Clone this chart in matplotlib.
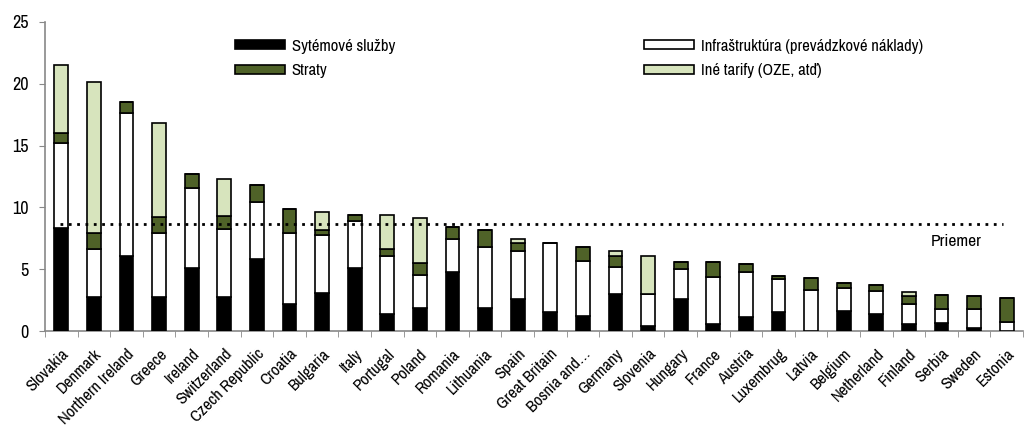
import matplotlib
matplotlib.use("Agg")
import matplotlib.pyplot as plt
import numpy as np
from matplotlib import font_manager

countries = ["Slovakia", "Denmark", "Northern Ireland", "Greece", "Ireland", "Switzerland",
             "Czech Republic", "Croatia", "Bulgaria", "Italy", "Portugal", "Poland", "Romania",
             "Lithuania", "Spain", "Great Britain", "Bosnia and…", "Germany", "Slovenia",
             "Hungary", "France", "Austria", "Luxembrug", "Latvia", "Belgium", "Netherland",
             "Finland", "Serbia", "Sweden", "Estonia"]
system_services = [8.3, 2.75, 6.1, 2.75, 5.1, 2.75, 5.85, 2.15, 3.1, 5.1, 1.4, 1.9, 4.75,
                   1.9, 2.6, 1.5, 1.25, 3.0, 0.4, 2.6, 0.55, 1.15, 1.5, 0.0, 1.6, 1.4,
                   0.55, 0.65, 0.25, 0.0]
infrastructure = [6.95, 3.9, 11.5, 5.15, 6.5, 5.5, 4.55, 5.75, 4.65, 3.8, 4.65, 2.65, 2.7,
                  4.9, 3.9, 5.6, 4.4, 2.15, 2.6, 2.45, 3.8, 3.65, 2.7, 3.3, 1.85, 1.8,
                  1.6, 1.15, 1.55, 0.75]
losses = [0.8, 1.3, 0.9, 1.3, 1.1, 1.05, 1.4, 2.0, 0.45, 0.5, 0.6, 0.95, 1.0,
          1.4, 0.65, 0.0, 1.15, 0.9, 0.0, 0.55, 1.2, 0.65, 0.25, 0.95, 0.4, 0.5,
          0.7, 1.15, 1.0, 1.95]
other_tariffs = [5.45, 12.2, 0.0, 7.6, 0.0, 3.0, 0.0, 0.0, 1.4, 0.0, 2.75, 3.65, 0.0,
                 0.0, 0.3, 0.0, 0.0, 0.4, 3.1, 0.0, 0.0, 0.0, 0.0, 0.0, 0.0, 0.0,
                 0.3, 0.0, 0.0, 0.0]
average = 8.64
series_labels = ["Sytémové služby", "Infraštruktúra (prevádzkové náklady)", "Straty",
                 "Iné tarify (OZE, atď)"]
avg_label = "Priemer"

names = {f.name for f in font_manager.fontManager.ttflist if f.style == "normal"}
narrow = None
for cand in ["Liberation Sans Narrow", "Arimo Narrow", "Archivo Narrow", "PT Sans Narrow",
             "Roboto Condensed", "Pragati Narrow"]:
    if cand in names:
        narrow = cand
        break
if narrow:
    plt.rcParams['font.family'] = [narrow, 'Liberation Sans', 'DejaVu Sans']
    fs = 12.0
else:
    plt.rcParams['font.family'] = ['Liberation Sans', 'DejaVu Sans']
    fs = 10.5
px = fs * 100 / 72  # font size in pixels

fig = plt.figure(figsize=(10.24, 4.30), dpi=100)
ax = fig.add_axes([45/1024, 99/430, 978/1024, 309/430])

x = np.arange(len(countries))
w = 0.42
colors = ["#000000", "#FFFFFF", "#4F6228", "#D7E4BD"]
series = [system_services, infrastructure, losses, other_tariffs]
bottom = np.zeros(len(countries))
handles = []
for vals, col, lab in zip(series, colors, series_labels):
    v = np.array(vals)
    b = ax.bar(x, v, w, bottom=bottom, color=col, edgecolor="black", linewidth=1.2,
               label=lab, zorder=3)
    handles.append(b)
    bottom += v

ax.plot([-0.05, 28.9], [average, average], linestyle=(0, (1, 2)), color="black",
        linewidth=2, zorder=4)
ax.text(27.45, average - 1.4, avg_label, fontsize=fs + 0.5, ha="center", va="center")

ax.set_xlim(-0.5, len(countries) - 0.5)
ax.set_ylim(0, 25)
ax.set_yticks([0, 5, 10, 15, 20, 25])
ax.tick_params(axis="y", labelsize=fs + 1, length=4, color="#888888", pad=8)
ax.set_xticks(x)
ax.set_xticklabels(countries, rotation=45, ha="right", rotation_mode="anchor", fontsize=fs)
ax.tick_params(axis="x", which="major", length=0, pad=11)
ax.set_xticks(np.arange(-0.5, len(countries)), minor=True)
ax.tick_params(axis="x", which="minor", length=4, color="#888888")
for s in ["top", "right"]:
    ax.spines[s].set_visible(False)
for s in ["left", "bottom"]:
    ax.spines[s].set_color("#888888")
    ax.spines[s].set_linewidth(1.2)

order = [0, 2, 1, 3]
leg = ax.legend([handles[i] for i in order], [series_labels[i] for i in order],
                ncol=2, frameon=False, fontsize=fs, handlelength=50 / px,
                handleheight=0.45, labelspacing=(26 - px) / px * 1.05,
                columnspacing=(241 + 8) / px * (px / 16.67) if narrow else 245 / px,
                handletextpad=0.4,
                loc="upper left", bbox_to_anchor=(175/978, 0.995))

fig.savefig("out.png", dpi=100)
